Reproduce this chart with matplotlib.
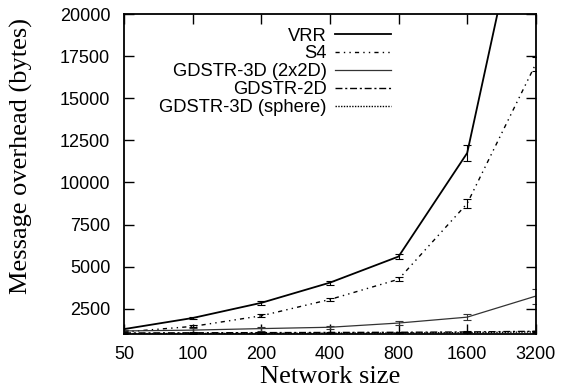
import numpy as np
import matplotlib.pyplot as plt

# network sizes and message overhead (bytes)
sizes = [50, 100, 200, 400, 800, 1600, 3200]
vrr = [1290, 1950, 2850, 4050, 5600, 11750, 30500]
vrr_err = [60, 60, 100, 120, 150, 500, 800]
s4 = [1120, 1450, 2080, 3050, 4250, 8750, 17050]
s4_err = [50, 60, 80, 100, 120, 250, 400]
gd3d_2x2 = [1180, 1230, 1320, 1400, 1650, 2000, 3250]
gd3d_2x2_err = [60, 150, 120, 80, 100, 180, 450]
gd2d = [1060, 1070, 1080, 1090, 1100, 1120, 1160]
gd2d_err = [20, 20, 20, 20, 20, 30, 40]
gd3d_sph = [1020, 1030, 1040, 1050, 1060, 1080, 1120]
gd3d_sph_err = [20, 20, 20, 20, 20, 30, 40]

plt.rcParams['font.family'] = ['Liberation Sans', 'DejaVu Sans']

fig = plt.figure(figsize=(5.64, 3.92), dpi=100)
ax = fig.add_axes([0.22, 0.148, 0.730, 0.816])

def draw(y, err, label, ls, lw, color='black'):
    ax.errorbar(sizes, y, yerr=err, label=label, color=color, linestyle=ls,
                linewidth=lw, elinewidth=0.8, capsize=3, capthick=0.8)

draw(vrr, vrr_err, 'VRR', '-', 1.3)
draw(s4, s4_err, 'S4', (0, (3, 3, 1, 3, 1, 3)), 1.0)
draw(gd3d_2x2, gd3d_2x2_err, 'GDSTR-3D (2x2D)', '-', 0.9, '#333333')
draw(gd2d, gd2d_err, 'GDSTR-2D', (0, (5, 2, 1.5, 2)), 1.0)
draw(gd3d_sph, gd3d_sph_err, 'GDSTR-3D (sphere)', (0, (1, 1)), 1.0)

ax.set_xscale('log', base=2)
ax.set_xlim(50, 3200)
ax.set_ylim(1000, 20000)
ax.set_xticks(sizes)
ax.set_xticklabels([str(s) for s in sizes])
ax.minorticks_off()
ax.set_yticks([2500, 5000, 7500, 10000, 12500, 15000, 17500, 20000])
ax.tick_params(direction='in', length=7, width=1, top=True, right=True,
               labelsize=13, pad=9)
ax.tick_params(axis='y', pad=10)
for sp in ax.spines.values():
    sp.set_linewidth(1.3)

ax.set_xlabel('Network size', family='Liberation Serif', fontsize=19, labelpad=2)
ax.set_ylabel('Message overhead (bytes)', family='Liberation Serif', fontsize=19)
ax.yaxis.set_label_coords(-0.221, 0.556)

handles, labels = ax.get_legend_handles_labels()
handles = [h[0] for h in handles]
ax.legend(handles, labels, loc='upper right', bbox_to_anchor=(0.648, 0.958),
          frameon=False, markerfirst=False, fontsize=13.2, handlelength=3.05,
          handletextpad=0.45, labelspacing=0.05, borderpad=0, borderaxespad=0)

fig.savefig('out.png', dpi=100)
